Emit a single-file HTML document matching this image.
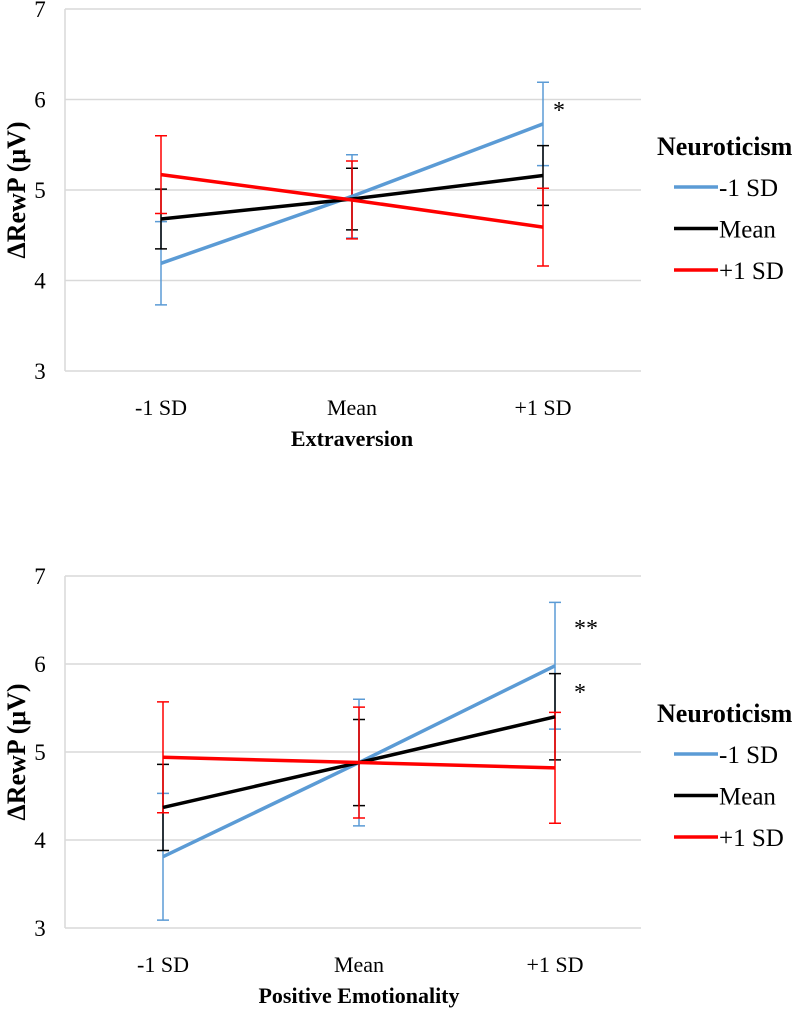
<!DOCTYPE html>
<html><head><meta charset="utf-8"><style>
body{margin:0;background:#fff;}
svg text{font-family:"Liberation Serif",serif;fill:#000;}
</style></head><body>
<svg id="s" width="800" height="1009" xmlns="http://www.w3.org/2000/svg"></svg>
<script>
const categories = ["-1 SD","Mean","+1 SD"];
const seriesNames = ["-1 SD","Mean","+1 SD"];
const yTicks = [3,4,5,6,7];
const topBlue = [4.19,4.93,5.73];
const topBlack = [4.68,4.90,5.16];
const topRed = [5.17,4.89,4.59];
const topBlueErr = [0.46,0.46,0.46];
const topBlackErr = [0.33,0.34,0.33];
const topRedErr = [0.43,0.43,0.43];
const botBlue = [3.81,4.88,5.98];
const botBlack = [4.37,4.88,5.40];
const botRed = [4.94,4.88,4.82];
const botBlueErr = [0.72,0.72,0.72];
const botBlackErr = [0.49,0.49,0.49];
const botRedErr = [0.63,0.63,0.63];
const colors = ["#5b9bd5","#000000","#ff0000"];
const S = document.getElementById('s');
const NS = "http://www.w3.org/2000/svg";
function mk(tag, attrs, parent){const e=document.createElementNS(NS,tag);for(const k in attrs)e.setAttribute(k,attrs[k]);(parent||S).appendChild(e);return e;}
function txt(str,x,y,size,opt,parent){
  const t=mk('text',{x:x,y:y,'font-size':size,'text-anchor':opt.anchor||'middle','font-weight':opt.bold?'bold':'normal'},parent);
  t.textContent=str;return t;
}
function chart(cfg){
  const g=mk('g',{});
  
  
  const yS=v=>cfg.y3+(cfg.y7-cfg.y3)*(v-3)/4;
  const xS=i=>cfg.x0+i*cfg.dx;
  yTicks.forEach(v=>{
    const l=mk('line',{x1:65,x2:641,y1:yS(v),y2:yS(v),stroke:'#d9d9d9','stroke-width':1.5},g);
    
    
    const t=txt(String(v),40,yS(v)+8,23,{},g);
    
    
  });
  const ax=mk('line',{x1:65,x2:65,y1:yS(7),y2:yS(3),stroke:'#d9d9d9','stroke-width':1.5},g);
  
  
  categories.forEach((c,i)=>{
    const t=txt(c,xS(i),cfg.y3+44,22,{},g);
    
    
  });
  const xt=txt(cfg.xTitle,xS(1),cfg.y3+75,22,{bold:true},g);
  
  
  const cy=(yS(7)+yS(3))/2;
  const yt=mk('text',{x:0,y:0,'font-size':26,'font-weight':'bold','text-anchor':'middle',transform:`translate(25,${cy}) rotate(-90)`},g);
  yt.textContent='ΔRewP (μV)';
  
  
  cfg.series.forEach((vals,si)=>{
    const err=cfg.errs[si];
    vals.forEach((v,i)=>{
      const x=xS(i),a=yS(v+err[i]),b=yS(v-err[i]);
      const eb=mk('path',{d:`M${x},${a}V${b}M${x-6},${a}H${x+6}M${x-6},${b}H${x+6}`,stroke:colors[si],'stroke-width':1.5,fill:'none'},g);
      
      
    });
  });
  cfg.series.forEach((vals,si)=>{
    const p=mk('polyline',{points:vals.map((v,i)=>xS(i)+','+yS(v)).join(' '),stroke:colors[si],'stroke-width':3.5,fill:'none'},g);
    
    
  });
  cfg.stars.forEach(s=>{
    const t=txt(s.t,s.x,s.y,24,{anchor:'start'},g);
    
    
  });
  const lt=txt('Neuroticism',657,cfg.leg+9,26,{bold:true,anchor:'start'},g);
  
  
  seriesNames.forEach((n,i)=>{
    const y=cfg.leg+41+i*41.5;
    const e=mk('g',{},g);
    
    
    mk('line',{x1:674,x2:718,y1:y,y2:y,stroke:colors[i],'stroke-width':3.5},e);
    txt(n,719,y+9,25,{anchor:'start'},e);
  });
}
chart({name:'extraversion-chart',y7:9,y3:371,x0:161,dx:191,xTitle:'Extraversion',
  series:[topBlue,topBlack,topRed],errs:[topBlueErr,topBlackErr,topRedErr],
  stars:[{t:'*',x:553,y:118}],leg:146});
chart({name:'positive-emotionality-chart',y7:576,y3:928,x0:163,dx:196,xTitle:'Positive Emotionality',
  series:[botBlue,botBlack,botRed],errs:[botBlueErr,botBlackErr,botRedErr],
  stars:[{t:'**',x:574,y:636},{t:'*',x:574,y:700}],leg:713});
</script>
</body></html>
